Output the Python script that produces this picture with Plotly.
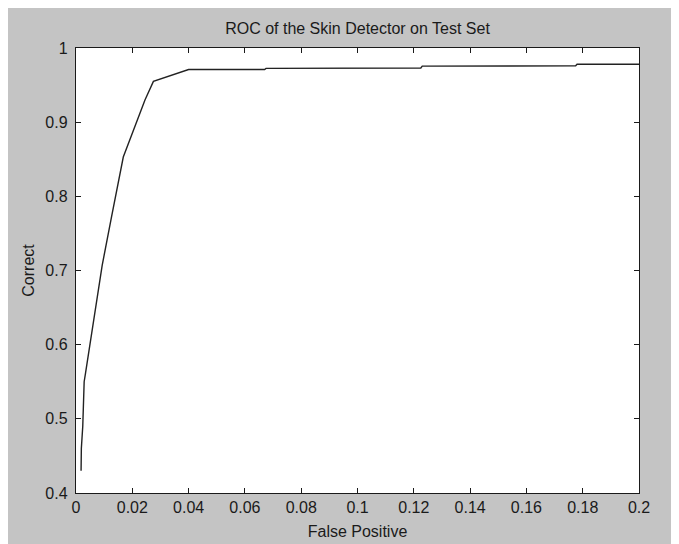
import plotly.graph_objects as go

# ROC curve data
false_positive = [0.0018, 0.0019, 0.0024, 0.0026, 0.0029, 0.0034, 0.0050, 0.0093,
                  0.0125, 0.0168, 0.0245, 0.0275, 0.0400, 0.0670, 0.0675,
                  0.1225, 0.1230, 0.1775, 0.1780, 0.2000]
correct = [0.430, 0.460, 0.490, 0.530, 0.550, 0.562, 0.602, 0.707,
           0.770, 0.853, 0.930, 0.955, 0.971, 0.971, 0.9725,
           0.973, 0.9755, 0.976, 0.978, 0.978]

x_ticks = [0, 0.02, 0.04, 0.06, 0.08, 0.1, 0.12, 0.14, 0.16, 0.18, 0.2]
x_tick_labels = ["0", "0.02", "0.04", "0.06", "0.08", "0.1", "0.12", "0.14", "0.16", "0.18", "0.2"]
y_ticks = [0.4, 0.5, 0.6, 0.7, 0.8, 0.9, 1.0]
y_tick_labels = ["0.4", "0.5", "0.6", "0.7", "0.8", "0.9", "1"]

font_family = "Liberation Sans, Arial, sans-serif"
ink = "#1a1a1a"

fig = go.Figure()
fig.add_trace(go.Scatter(x=false_positive, y=correct, mode="lines",
                         line=dict(color="#222222", width=1.4),
                         showlegend=False, hoverinfo="skip"))

axis_common = dict(showline=True, linecolor=ink, linewidth=1.4, mirror="ticks",
                   ticks="inside", ticklen=5, tickwidth=1.2, tickcolor=ink,
                   showgrid=False, zeroline=False,
                   tickfont=dict(family=font_family, size=16, color=ink))

fig.update_layout(
    width=679, height=544,
    margin=dict(l=68, r=48, t=40, b=59),
    paper_bgcolor="#c4c4c4",
    plot_bgcolor="#ffffff",
    font=dict(family=font_family, size=16, color=ink),
    title=dict(text="ROC of the Skin Detector on Test Set",
               x=(68 + 631) / 2 / 679, xanchor="center",
               y=1 - 20 / 544, yanchor="middle",
               font=dict(family=font_family, size=16, color=ink)),
    xaxis=dict(range=[0, 0.2], tickvals=x_ticks, ticktext=x_tick_labels,
               title=dict(text="False Positive", standoff=10,
                          font=dict(family=font_family, size=16, color=ink)),
               ticklabelstandoff=0, **axis_common),
    yaxis=dict(range=[0.4, 1.0], tickvals=y_ticks, ticktext=y_tick_labels,
               title=dict(text="Correct", standoff=6,
                          font=dict(family=font_family, size=16, color=ink)),
               ticklabelstandoff=4, **axis_common),
)

fig.write_html("out.html")
